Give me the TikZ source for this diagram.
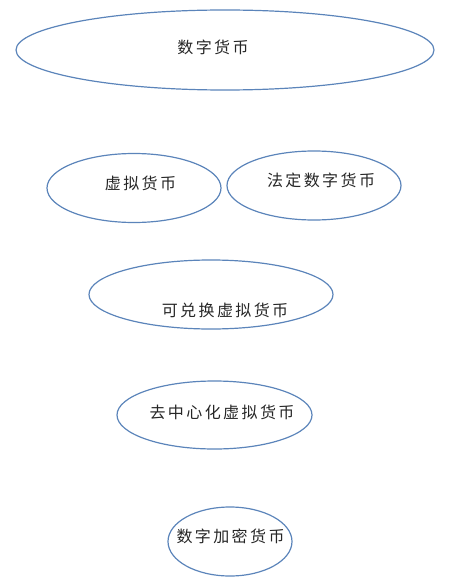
\documentclass[tikz,border=0pt]{standalone}
\usepackage{fontspec}
\newfontfamily\cjk[LetterSpace=15]{Noto Sans CJK SC}
\usepackage{tikz}
\usetikzlibrary{shapes,positioning}
\definecolor{ellblue}{HTML}{5B84BA}

\begin{document}
\begin{tikzpicture}[x=1pt,y=-1pt]
	\tikzstyle{ell}
	  =[draw=ellblue, ellipse, line width=1.2pt, inner sep=0pt]
	\tikzstyle{lbl}
	  =[font=\cjk\fontsize{16pt}{18pt}\selectfont, text=black!85, inner sep=0pt]

	\useasboundingbox (0,0) rectangle (452,583);

	\node[ell,minimum width=418pt,minimum height=80pt] (digital)
	  at (225,50) {};
	\node[lbl] (digital_txt)
	  at (213,47) {数字货币};

	\node[ell,minimum width=174pt,minimum height=69pt] (virtual)
	  at (134,188) {};
	\node[lbl] (virtual_txt)
	  at (140.5,183) {虚拟货币};

	\node[ell,minimum width=174pt,minimum height=69pt] (legal)
	  at (314,185.5) {};
	\node[lbl] (legal_txt)
	  at (321,180) {法定数字货币};

	\node[ell,minimum width=244pt,minimum height=69pt] (convert)
	  at (211,294.5) {};
	\node[lbl] (convert_txt)
	  at (225,310) {可兑换虚拟货币};

	\node[ell,minimum width=195pt,minimum height=68pt] (decentral)
	  at (214.5,415) {};
	\node[lbl] (decentral_txt)
	  at (222,412) {去中心化虚拟货币};

	\node[ell,minimum width=124pt,minimum height=69pt] (crypto)
	  at (230,541.5) {};
	\node[lbl] (crypto_txt)
	  at (230.5,536) {数字加密货币};
\end{tikzpicture}
\end{document}
